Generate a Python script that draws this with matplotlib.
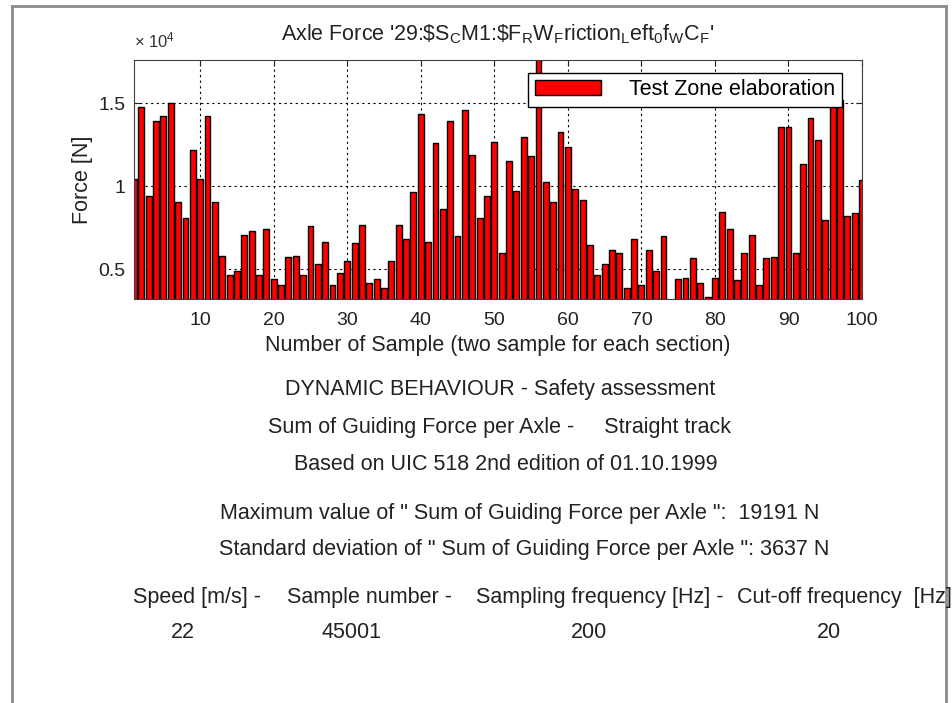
import matplotlib
matplotlib.use("Agg")
import matplotlib.pyplot as plt
from matplotlib.lines import Line2D

plt.rcParams['font.family'] = ['Liberation Sans', 'DejaVu Sans']
plt.rcParams['mathtext.fontset'] = 'custom'
plt.rcParams['mathtext.rm'] = 'Liberation Sans'
plt.rcParams['mathtext.it'] = 'Liberation Sans:italic'

# force per sample [N]
samples = list(range(1, 101))
force = [10440, 14760, 9400, 13950, 14200, 15020, 9040, 8070, 12150, 10440,
         14200, 9040, 5820, 4660, 4880, 7030, 7270, 4660, 7430, 4380,
         4020, 5720, 5820, 4660, 7570, 5320, 6630, 4020, 4760, 5480,
         6570, 7670, 4180, 4380, 3880, 5480, 7670, 6790, 9640, 14320,
         6630, 12590, 8630, 13900, 6990, 14600, 11890, 8070, 9400, 12650,
         5980, 11510, 9700, 12950, 11790, 19191, 10240, 9040, 13250, 12350,
         9840, 9180, 6430, 4660, 5320, 6130, 5980, 3880, 6830, 4020,
         6130, 4860, 6990, 3100, 4380, 4480, 5660, 4180, 3350, 4480,
         8470, 7430, 4320, 5980, 7030, 4020, 5660, 5720, 13550, 13550,
         5980, 11310, 14120, 12750, 7970, 15200, 15200, 8230, 8370, 10380]

xticks = list(range(10, 101, 10))
yticks = [5000, 10000, 15000]
ytick_labels = ['0.5', '1', '1.5']

W, H = 952, 703
fig = plt.figure(figsize=(W / 100, H / 100), dpi=100)

def fx(px):
    return px / W

def fy(py):
    return 1 - py / H

# figure frame
grey = '#8c8c8c'
fig.add_artist(Line2D([fx(12), fx(12)], [fy(6), 0], color=grey, lw=2))
fig.add_artist(Line2D([fx(12), fx(946)], [fy(6), fy(6)], color=grey, lw=2))
fig.add_artist(Line2D([fx(946), fx(946)], [fy(6), 0], color=grey, lw=2))

FS = 15.5

ax = fig.add_axes([fx(134), fy(299), fx(862) - fx(134), fy(60) - fy(299)])
ax.bar(samples, force, width=0.8, color='#ff0000', edgecolor='black',
       linewidth=1.0, label='Test Zone elaboration', zorder=2)
ax.set_xlim(1, 100)
ax.set_ylim(3200, 17600)
ax.set_xticks(xticks)
ax.set_yticks(yticks)
ax.set_yticklabels(ytick_labels)
ax.grid(True, linestyle=(0, (2, 3)), color='black', linewidth=0.8, zorder=1)
ax.tick_params(direction='in', length=4, labelsize=14, top=True, right=True,
               colors='#222222')
ax.tick_params(axis='x', pad=9)
ax.tick_params(axis='y', pad=6)
for s in ax.spines.values():
    s.set_color('#404040')
ax.set_xlabel('Number of Sample (two sample for each section)', fontsize=FS,
              labelpad=5, color='#222222')
ax.set_ylabel('Force [N]', fontsize=FS, labelpad=4, color='#222222')
ax.set_title(r"Axle Force '29:\$S$_\mathrm{C}$M1:\$F$_\mathrm{R}$W$_\mathrm{F}$riction"
             r"$_\mathrm{L}$eft$_\mathrm{0}$f$_\mathrm{W}$C$_\mathrm{F}$'",
             fontsize=FS, pad=14, color='#222222')
ax.text(0, 1.04, r'$\times$ 10$^\mathrm{4}$', transform=ax.transAxes, fontsize=12,
        color='#333333', ha='left', va='bottom')
ax.legend(loc='upper right', bbox_to_anchor=((842 - 134) / 728, (299 - 73) / 239),
          borderaxespad=0, fontsize=FS, handlelength=3.1, handletextpad=1.3,
          borderpad=0.3, fancybox=False, edgecolor='black', framealpha=1)

txt = dict(fontsize=FS, color='#222222', va='center')
fig.text(fx(500), fy(390), 'DYNAMIC BEHAVIOUR - Safety assessment', ha='center', **txt)
fig.text(fx(500), fy(428), 'Sum of Guiding Force per Axle -     Straight track', ha='center', **txt)
fig.text(fx(506), fy(464), 'Based on UIC 518 2nd edition of 01.10.1999', ha='center', **txt)
fig.text(fx(220), fy(514), 'Maximum value of " Sum of Guiding Force per Axle ":  19191 N', ha='left', **txt)
fig.text(fx(219), fy(549), 'Standard deviation of " Sum of Guiding Force per Axle ": 3637 N', ha='left', **txt)

fig.text(fx(133), fy(598), 'Speed [m/s] -', ha='left', **txt)
fig.text(fx(287), fy(598), 'Sample number -', ha='left', **txt)
fig.text(fx(476), fy(598), 'Sampling frequency [Hz] -', ha='left', **txt)
fig.text(fx(737), fy(598), 'Cut-off frequency  [Hz]', ha='left', **txt)
fig.text(fx(183), fy(632), '22', ha='center', **txt)
fig.text(fx(352), fy(632), '45001', ha='center', **txt)
fig.text(fx(589), fy(632), '200', ha='center', **txt)
fig.text(fx(829), fy(632), '20', ha='center', **txt)

fig.savefig('out.png', dpi=100)
